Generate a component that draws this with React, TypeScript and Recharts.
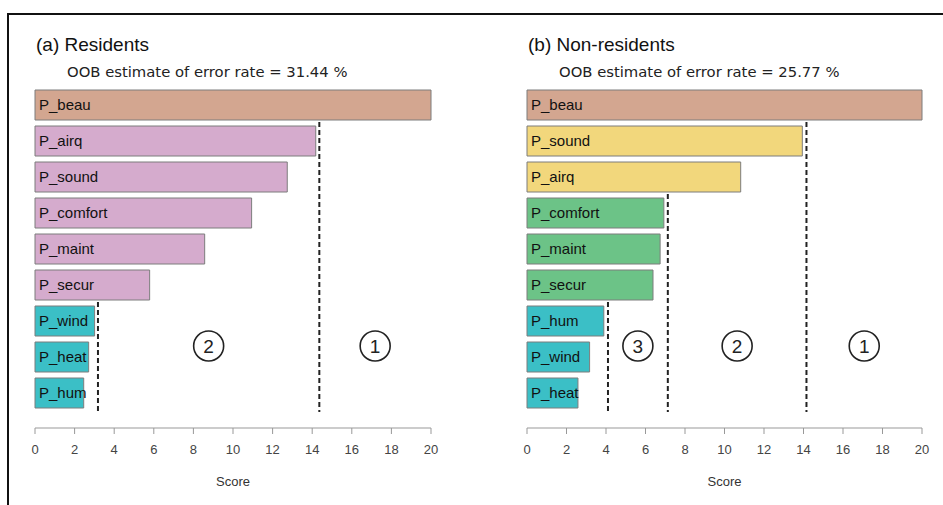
import {
  Bar,
  BarChart,
  Cell,
  LabelList,
  ReferenceDot,
  ReferenceLine,
  XAxis,
  YAxis,
} from "recharts";

// Random forest variable importance, residents vs non-residents
const residentVars = [
  "P_beau",
  "P_airq",
  "P_sound",
  "P_comfort",
  "P_maint",
  "P_secur",
  "P_wind",
  "P_heat",
  "P_hum",
];
const residentScores = [20.0, 14.18, 12.74, 10.94, 8.57, 5.79, 3.01, 2.71, 2.46];
const residentGroups = ["top", "mid", "mid", "mid", "mid", "mid", "low", "low", "low"];
const residentCutoffs = [14.36, 3.18];
const residentOob = 31.44;

const visitorVars = [
  "P_beau",
  "P_sound",
  "P_airq",
  "P_comfort",
  "P_maint",
  "P_secur",
  "P_hum",
  "P_wind",
  "P_heat",
];
const visitorScores = [20.0, 13.94, 10.82, 6.93, 6.74, 6.38, 3.89, 3.17, 2.58];
const visitorGroups = ["top", "high", "high", "mid2", "mid2", "mid2", "low", "low", "low"];
const visitorCutoffs = [14.15, 7.13, 4.1];
const visitorOob = 25.77;

const scoreTicks = [0, 2, 4, 6, 8, 10, 12, 14, 16, 18, 20];
const scoreMax = 20;

const residentColors: Record<string, string> = {
  top: "#d3a690",
  mid: "#d5abcd",
  low: "#3bbfc6",
};
const visitorColors: Record<string, string> = {
  top: "#d3a690",
  high: "#f2d77c",
  mid2: "#6cc387",
  low: "#3bbfc6",
};

const ROW = 36;
const FONT = "'Liberation Sans', Arial, sans-serif";

const CutLine = (props: any) => {
  const { x1, x2, y1, y2 } = props;
  return (
    <line
      x1={x1}
      x2={x2}
      y1={Math.min(y1, y2) - ROW / 2 - 1}
      y2={Math.max(y1, y2) + ROW / 2 + 1}
      stroke="#222"
      strokeWidth={2}
      strokeDasharray="5 3"
    />
  );
};

const ZoneMark = (label: number) => (props: any) => {
  const { cx, cy } = props;
  const y = cy - 11;
  return (
    <g>
      <circle cx={cx} cy={y} r={15} fill="none" stroke="#222" strokeWidth={1.6} />
      <text
        x={cx}
        y={y}
        textAnchor="middle"
        dominantBaseline="central"
        fontSize={19}
        fontFamily={FONT}
        fill="#222"
      >
        {label}
      </text>
    </g>
  );
};

interface PanelProps {
  left: number;
  title: string;
  oob: number;
  vars: string[];
  scores: number[];
  groups: string[];
  colors: Record<string, string>;
  cutoffs: number[];
  marginLeft: number;
  marginRight: number;
}

function ImportancePanel({
  left,
  title,
  oob,
  vars,
  scores,
  groups,
  colors,
  cutoffs,
  marginLeft,
  marginRight,
}: PanelProps) {
  const data = vars.map((name, i) => ({ name, score: scores[i], group: groups[i] }));
  const lastVar = vars[vars.length - 1];
  const bounds = [scoreMax, ...cutoffs];
  const zones = cutoffs.map((c, i) => ({ label: i + 1, x: (bounds[i] + c) / 2 }));

  return (
    <div style={{ position: "absolute", left, top: 0, width: 470, height: 505 }}>
      <div
        style={{
          position: "absolute",
          left: marginLeft + 1,
          top: 34,
          fontFamily: FONT,
          fontSize: 19,
          lineHeight: "21px",
          color: "#111",
          whiteSpace: "nowrap",
        }}
      >
        {title}
      </div>
      <div
        style={{
          position: "absolute",
          left: marginLeft + 32,
          top: 63,
          fontFamily: "'DejaVu Sans', sans-serif",
          fontSize: 14.8,
          lineHeight: "18px",
          color: "#222",
          whiteSpace: "nowrap",
        }}
      >
        OOB estimate of error rate = {oob.toFixed(2)} %
      </div>
      <BarChart
        width={470}
        height={505}
        data={data}
        layout="vertical"
        margin={{ top: 87, right: marginRight, left: marginLeft, bottom: 17 }}
        style={{ fontFamily: FONT }}
      >
        <XAxis
          type="number"
          dataKey="score"
          domain={[0, scoreMax]}
          ticks={scoreTicks}
          height={60}
          tickSize={6}
          tickMargin={11}
          stroke="#999"
          tick={{ fill: "#444", fontSize: 13, fontFamily: FONT }}
          label={{
            value: "Score",
            position: "insideBottom",
            offset: 2,
            fill: "#333",
            fontSize: 13,
            fontFamily: FONT,
          }}
        />
        <YAxis
          type="category"
          dataKey="name"
          hide
          width={0}
          padding={{ top: 0, bottom: 17 }}
        />
        <Bar dataKey="score" barSize={30} stroke="#7d7d7d" strokeWidth={1} isAnimationActive={false}>
          {data.map((d) => (
            <Cell key={d.name} fill={colors[d.group]} />
          ))}
          <LabelList
            dataKey="name"
            position="insideLeft"
            offset={4}
            fill="#111"
            fontSize={15}
            fontFamily={FONT}
          />
        </Bar>
        {cutoffs.map((c) => {
          const start = data.find((d) => d.score < c)?.name ?? lastVar;
          return (
            <ReferenceLine
              key={`cut-${c}`}
              segment={[
                { x: c, y: start },
                { x: c, y: lastVar },
              ]}
              shape={CutLine}
            />
          );
        })}
        {zones.map((z) => (
          <ReferenceDot
            key={`zone-${z.label}`}
            x={z.x}
            y={vars[vars.length - 2]}
            r={15}
            shape={ZoneMark(z.label)}
          />
        ))}
      </BarChart>
    </div>
  );
}

export default function App() {
  return (
    <div
      style={{
        position: "absolute",
        left: 0,
        top: 0,
        width: 943,
        height: 505,
        background: "#fff",
        overflow: "hidden",
      }}
    >
      <div style={{ position: "absolute", left: 8, top: 13, width: 935, height: 2, background: "#111" }} />
      <div style={{ position: "absolute", left: 7, top: 13, width: 2, height: 492, background: "#111" }} />
      <ImportancePanel
        left={0}
        title="(a) Residents"
        oob={residentOob}
        vars={residentVars}
        scores={residentScores}
        groups={residentGroups}
        colors={residentColors}
        cutoffs={residentCutoffs}
        marginLeft={35}
        marginRight={39}
      />
      <ImportancePanel
        left={470}
        title="(b) Non-residents"
        oob={visitorOob}
        vars={visitorVars}
        scores={visitorScores}
        groups={visitorGroups}
        colors={visitorColors}
        cutoffs={visitorCutoffs}
        marginLeft={57}
        marginRight={18}
      />
    </div>
  );
}
